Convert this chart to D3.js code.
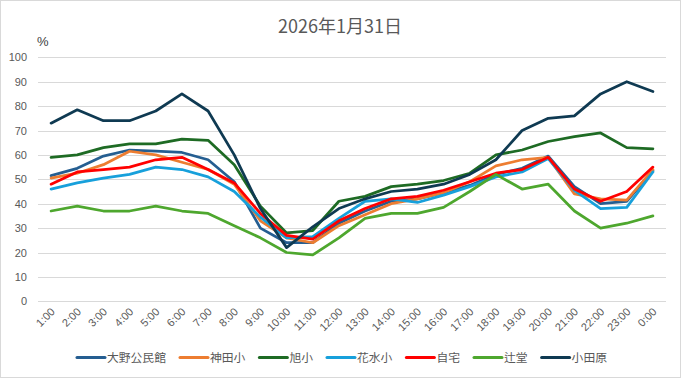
<!DOCTYPE html>
<html><head><meta charset="utf-8">
<script src="https://cdn.jsdelivr.net/npm/d3@7/dist/d3.min.js"></script>
<style>
html,body{margin:0;padding:0;background:#fff;}
svg{display:block;}
</style></head>
<body>
<script>
const categories = ["1:00","2:00","3:00","4:00","5:00","6:00","7:00","8:00","9:00","10:00","11:00","12:00","13:00","14:00","15:00","16:00","17:00","18:00","19:00","20:00","21:00","22:00","23:00","0:00"];
const seriesNames = ["大野公民館","神田小","旭小","花水小","自宅","辻堂","小田原"];
const seriesColors = ["#255E91","#ED7D31","#1E6B24","#17A0DB","#FF0000","#4EA72E","#0F3A52"];
const oono    = [51.5,54.5,59.5,62,61.5,61,58,49,30,24,24,32,37,41,42,44.5,47.5,52,54.5,59.5,47,40,41,53.5];
const kanda   = [50.5,52.5,56,61.5,60,57,54,48,33,26,24,31,35.5,40,42,44.5,49,55.5,58,59,44,42,41.5,54];
const asahi   = [59,60,63,64.5,64.5,66.5,66,56,39,28,29,41,43,47,48,49.5,52.5,60,62,65.5,67.5,69,63,62.5];
const hanamizu= [46,48.5,50.5,52,55,54,51,45,34.5,26,26.5,34,41,42,40.5,43.5,47,51,53,58.5,45.5,38,38.5,53];
const jitaku  = [48,53,54,55,58,59,54,48.5,36,27,25.5,33,38,42,43,45.5,49,52.5,54,59,46,41,45,55];
const tsujido = [37,39,37,37,39,37,36,31,26,20,19,26,34,36,36,38.5,45,52,46,48,37,30,32,35];
const odawara = [73,78.5,74,74,78,85,78,60,38,22,30.5,38,42,45,46,48,52,58,70,75,76,85,90,86];
const seriesValues = [oono,kanda,asahi,hanamizu,jitaku,tsujido,odawara];
const yTicks = [0,10,20,30,40,50,60,70,80,90,100];
const titleText = "2026年1月31日";
const unitText = "%";

(function(){
const W = 681, H = 378;
const pLeft = 38, pRight = 666, pTop = 57.3, pBottom = 301.3;
const txt = "#595959";

const svg = d3.select("body").append("svg").attr("width", W).attr("height", H);
svg.append("rect").attr("x",0.5).attr("y",0.5).attr("width",W-1).attr("height",H-1)
  .attr("fill","#fff").attr("stroke","#d9d9d9");

const x = d3.scalePoint().domain(categories).range([pLeft, pRight]).padding(0.5);
const y = d3.scaleLinear().domain([0,100]).range([pBottom, pTop]);

svg.append("g").selectAll("line").data(yTicks).join("line")
  .attr("x1", pLeft).attr("x2", pRight)
  .attr("y1", d => Math.round(y(d))+0.5).attr("y2", d => Math.round(y(d))+0.5)
  .attr("stroke", "#d9d9d9").attr("stroke-width", 1);

const yAxis = d3.axisLeft(y).tickValues(yTicks).tickSize(0).tickPadding(0);
const gy = svg.append("g").attr("transform", `translate(${pLeft-11},0)`).call(yAxis);
gy.select(".domain").remove();
gy.selectAll("text").attr("fill", txt).style("font-family","'Liberation Sans', Arial, sans-serif").style("font-size","11px");

const xAxis = d3.axisBottom(x).tickSize(0).tickPadding(0);
const gx = svg.append("g").attr("transform", `translate(0,${pBottom})`).call(xAxis);
gx.select(".domain").remove();
gx.selectAll("text")
  .attr("fill", txt)
  .style("font-family","'Liberation Sans', Arial, sans-serif").style("font-size","11px")
  .attr("text-anchor","end")
  .attr("dy", null)
  .attr("y", 0)
  .attr("transform", "translate(4,11) rotate(-45)");

const line = d3.line().x((d,i) => x(categories[i])).y(d => y(d));
svg.append("g").selectAll("path").data(seriesValues).join("path")
  .attr("d", d => line(d))
  .attr("fill","none")
  .attr("stroke", (d,i) => seriesColors[i])
  .attr("stroke-width", 2.75)
  .attr("stroke-linejoin","round")
  .attr("stroke-linecap","round");

svg.append("text").attr("x", 340).attr("y", 32.5).attr("text-anchor","middle")
  .attr("fill", txt).style("font-family","'Noto Sans CJK JP', sans-serif").style("font-size","18px")
  .text(titleText);

svg.append("text").attr("x", 37).attr("y", 46)
  .attr("fill", "#404040").style("font-family","'Liberation Sans', Arial, sans-serif").style("font-size","13px")
  .text(unitText);

const lg = svg.append("g");
const items = lg.selectAll("g").data(seriesNames).join("g");
items.append("line").attr("x1",0).attr("x2",28).attr("y1",0).attr("y2",0)
  .attr("stroke",(d,i)=>seriesColors[i]).attr("stroke-width",3).attr("stroke-linecap","round");
items.append("text").attr("x",30).attr("y",0).attr("dy","0.36em")
  .attr("fill", txt).style("font-family","'Noto Sans CJK JP', sans-serif").style("font-size","11.8px")
  .text(d=>d);
const gap = 14; const widths = [];
items.each(function(d,i){ widths.push(30 + d3.select(this).select("text").node().getComputedTextLength()); });
const total = d3.sum(widths) + gap*(widths.length-1);
let start = 342 - total/2;
items.attr("transform", (d,i) => { const t = `translate(${start},357.5)`; start += widths[i] + gap; return t; });
})();
</script>
</body></html>
